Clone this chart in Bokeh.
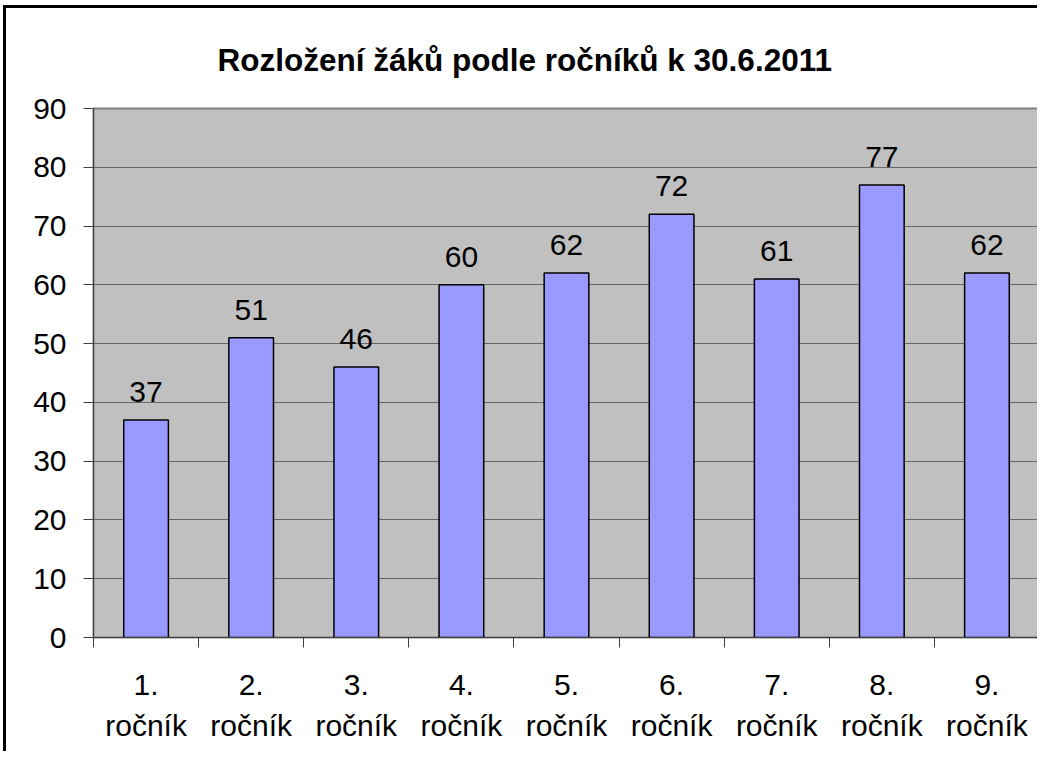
from bokeh.plotting import figure
from bokeh.models import ColumnDataSource, FixedTicker, Range1d, Title
from bokeh.core.properties import value
from bokeh.embed import file_html
from bokeh.resources import INLINE

title_text = "Rozložení žáků podle ročníků k 30.6.2011"
categories = ["1. ročník", "2. ročník", "3. ročník", "4. ročník", "5. ročník",
              "6. ročník", "7. ročník", "8. ročník", "9. ročník"]
values = [37, 51, 46, 60, 62, 72, 61, 77, 62]
y_ticks = [0, 10, 20, 30, 40, 50, 60, 70, 80, 90]

FONT = "Liberation Sans"
n = len(categories)
xs = [i + 0.5 for i in range(n)]
bounds = [i for i in range(n + 1)]

src = ColumnDataSource(dict(x=xs, top=values, label=[str(v) for v in values]))

p = figure(width=1034, height=746, output_backend="svg", toolbar_location=None,
           x_range=Range1d(0, n), y_range=Range1d(y_ticks[0], y_ticks[-1]),
           min_border_left=87, min_border_right=1, min_border_top=99, min_border_bottom=117,
           background_fill_color="#C0C0C0", border_fill_color="white",
           styles={"border-left": "3px solid black", "border-top": "3px solid black",
                   "margin-left": "3px", "margin-top": "5px"})

p.title = Title(text=title_text, align="left", offset=124, standoff=62,
                text_font=FONT, text_font_size="31.5px", text_font_style="bold",
                text_color="black")

p.outline_line_color = "#808080"
p.outline_line_width = 2

# x axis
p.xaxis.ticker = FixedTicker(ticks=xs, minor_ticks=bounds)
p.xaxis.major_label_overrides = {x: c.replace(" ", "\n") for x, c in zip(xs, categories)}
p.xaxis.major_tick_out = 0
p.xaxis.major_tick_in = 0
p.xaxis.minor_tick_out = 10
p.xaxis.minor_tick_in = 0
p.xaxis.major_label_standoff = 20
p.xaxis.major_label_text_line_height = 1.25

# y axis
p.yaxis.ticker = FixedTicker(ticks=y_ticks, minor_ticks=[])
p.yaxis.major_tick_out = 10
p.yaxis.major_tick_in = 0
p.yaxis.minor_tick_out = 0
p.yaxis.minor_tick_in = 0
p.yaxis.major_label_standoff = 17

for ax in (p.xaxis[0], p.yaxis[0]):
    ax.axis_line_color = "#404040"
    ax.axis_line_width = 1
    ax.major_tick_line_color = "#404040"
    ax.minor_tick_line_color = "#404040"
    ax.major_label_text_font = FONT
    ax.major_label_text_font_size = "30px"
    ax.major_label_text_color = "black"

p.xgrid.visible = False
p.ygrid.ticker = FixedTicker(ticks=y_ticks, minor_ticks=[])
p.ygrid.grid_line_color = "#666666"
p.ygrid.grid_line_width = 1

p.vbar(x="x", top="top", bottom=0, width=0.425, source=src,
       fill_color="#9999FF", line_color="black", line_width=1.5)

p.text(x="x", y="top", text="label", source=src, text_align="center",
       text_baseline="alphabetic", y_offset=-28, text_font=value(FONT),
       text_font_size="30px", text_color="black")

open("out.html", "w").write(file_html(p, INLINE))
